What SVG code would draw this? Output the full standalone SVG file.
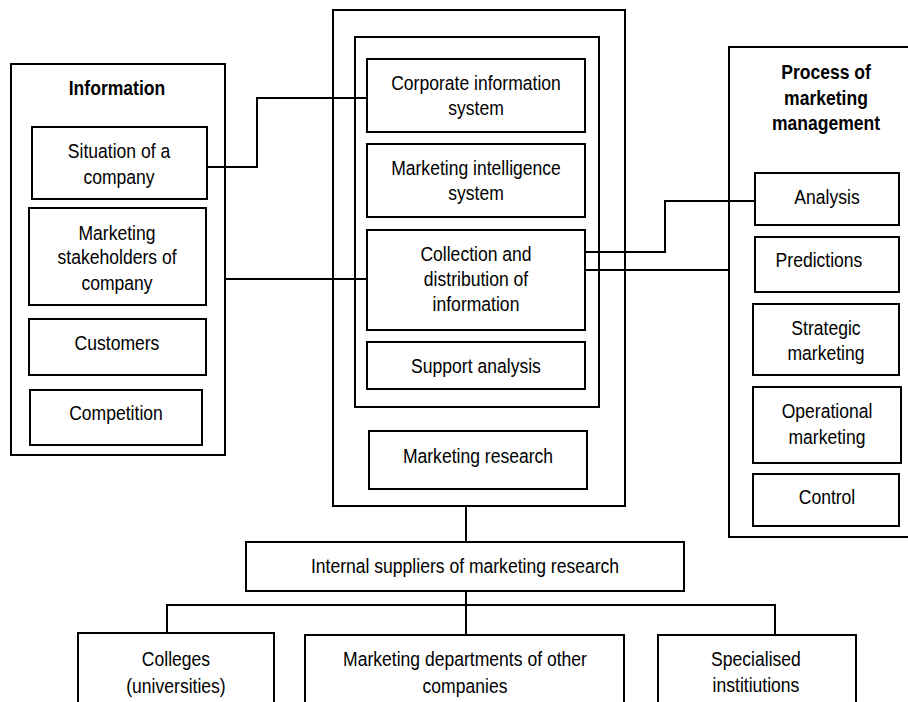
<svg xmlns="http://www.w3.org/2000/svg" width="908" height="702" viewBox="0 0 908 702">
<style>
rect{fill:#fff;stroke:#000;stroke-width:2}
text{font-family:"Liberation Sans",Arial,sans-serif;font-size:19.5px;fill:#000;text-anchor:middle;transform-box:fill-box;transform-origin:center;transform:scaleX(0.9)}
.b{font-weight:bold}
.c{fill:none;stroke:#000;stroke-width:2}
</style>
<rect x="0" y="0" width="908" height="702" style="stroke:none"/>
<g id="information">
<rect x="11" y="64" width="214" height="391"/>
<text class="b" x="117" y="95">Information</text>
</g>
<g id="situation">
<rect x="32" y="127" width="175" height="72"/>
<text x="119" y="158">Situation of a</text>
<text x="119" y="184">company</text>
</g>
<g id="stakeholders">
<rect x="29" y="208" width="177" height="97"/>
<text x="117" y="240">Marketing</text>
<text x="117" y="264">stakeholders of</text>
<text x="117" y="290">company</text>
</g>
<g id="customers">
<rect x="29" y="319" width="177" height="56"/>
<text x="117" y="350">Customers</text>
</g>
<g id="competition">
<rect x="30" y="390" width="172" height="55"/>
<text x="116" y="420">Competition</text>
</g>
<g id="mis">
<rect x="333" y="10" width="292" height="496"/>
</g>
<g id="inner">
<rect x="355" y="37" width="244" height="370"/>
</g>
<g id="corporate">
<rect x="367" y="59" width="218" height="73"/>
<text x="476" y="90">Corporate information</text>
<text x="476" y="115">system</text>
</g>
<g id="intelligence">
<rect x="367" y="144" width="218" height="73"/>
<text x="476" y="175">Marketing intelligence</text>
<text x="476" y="200">system</text>
</g>
<g id="collection">
<rect x="367" y="230" width="218" height="100"/>
<text x="476" y="261">Collection and</text>
<text x="476" y="286">distribution of</text>
<text x="476" y="311">information</text>
</g>
<g id="support">
<rect x="367" y="342" width="218" height="47"/>
<text x="476" y="373">Support analysis</text>
</g>
<g id="research">
<rect x="369" y="431" width="218" height="58"/>
<text x="478" y="463">Marketing research</text>
</g>
<g id="process">
<rect x="729" y="47" width="185" height="490"/>
<text class="b" x="826" y="79">Process of</text>
<text class="b" x="826" y="105">marketing</text>
<text class="b" x="826" y="130">management</text>
</g>
<g id="analysis">
<rect x="755" y="173" width="144" height="52"/>
<text x="827" y="204">Analysis</text>
</g>
<g id="predictions">
<rect x="755" y="237" width="144" height="55"/>
<text x="819" y="267">Predictions</text>
</g>
<g id="strategic">
<rect x="753" y="304" width="146" height="71"/>
<text x="826" y="335">Strategic</text>
<text x="826" y="360">marketing</text>
</g>
<g id="operational">
<rect x="753" y="387" width="148" height="76"/>
<text x="827" y="418">Operational</text>
<text x="827" y="444">marketing</text>
</g>
<g id="control">
<rect x="753" y="474" width="146" height="52"/>
<text x="827" y="504">Control</text>
</g>
<g id="suppliers">
<rect x="246" y="542" width="438" height="49"/>
<text x="465" y="573">Internal suppliers of marketing research</text>
</g>
<g id="colleges">
<rect x="78" y="633" width="196" height="80"/>
<text x="176" y="666">Colleges</text>
<text x="176" y="693">(universities)</text>
</g>
<g id="departments">
<rect x="305" y="635" width="319" height="80"/>
<text x="465" y="666">Marketing departments of other</text>
<text x="465" y="693">companies</text>
</g>
<g id="specialised">
<rect x="658" y="635" width="198" height="80"/>
<text x="756" y="666">Specialised</text>
<text x="756" y="692">institiutions</text>
</g>
<g id="connectors">
<path class="c" d="M207,167 H257 V98 H367"/>
<path class="c" d="M225,279 H367"/>
<path class="c" d="M585,252 H665 V201 H755"/>
<path class="c" d="M585,270 H729"/>
<path class="c" d="M466,506 V542"/>
<path class="c" d="M466,591 V635"/>
<path class="c" d="M167,633 V605 H775 V635"/>
</g>
</svg>
